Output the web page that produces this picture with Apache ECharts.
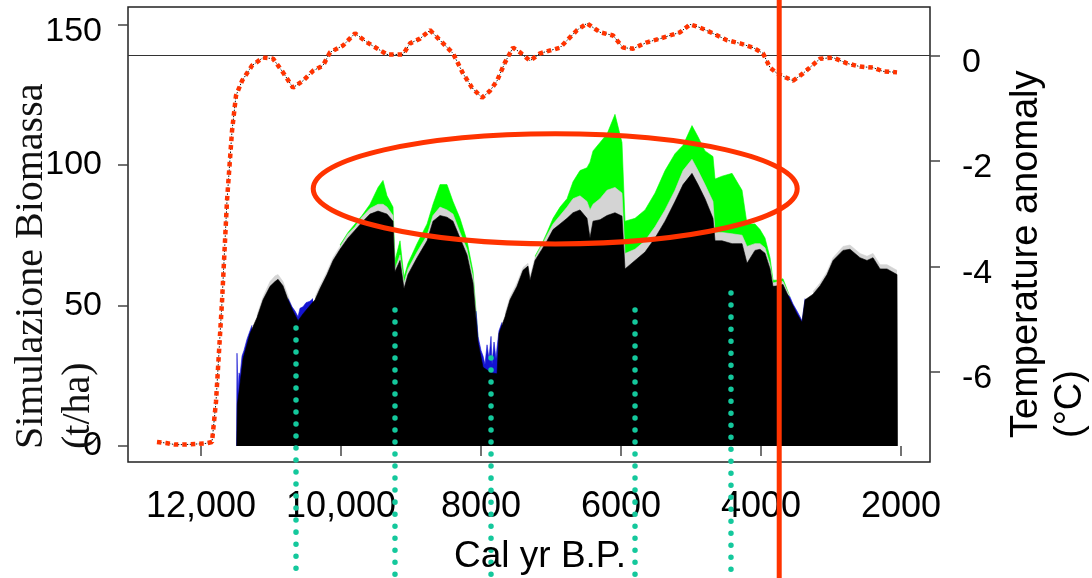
<!DOCTYPE html>
<html><head><meta charset="utf-8">
<script src="https://cdn.jsdelivr.net/npm/echarts@6/dist/echarts.min.js"></script>
<style>html,body{margin:0;padding:0;background:#fff}#c{width:1092px;height:578px}</style>
</head><body><div id="c"></div><script>
// ---------- DATA ----------
const xTickValues = [12000, 10000, 8000, 6000, 4000, 2000];
const xTickLabels = ['12,000', '10,000', '8000', '6000', '4000', '2000'];
const biomassTicks = [0, 50, 100, 150];
const tempTicks = [0, -2, -4, -6];

const biomassYears = [11490,11480,11443,11400,11300,11200,11114,11014,10943,10900,10829,10757,10686,10614,10543,10443,10371,10300,10200,10114,10014,9900,9800,9700,9586,9471,9400,9343,9257,9229,9157,9100,9043,8914,8771,8686,8586,8486,8400,8300,8200,8114,8043,7971,7914,7843,7771,7743,7657,7586,7486,7400,7329,7300,7229,7129,7057,6971,6871,6771,6686,6586,6486,6443,6400,6300,6200,6086,5986,5943,5800,5657,5514,5371,5229,5114,4986,4900,4800,4686,4657,4557,4414,4271,4200,4086,4014,3943,3871,3829,3757,3686,3586,3486,3414,3371,3257,3157,3057,2971,2829,2729,2586,2486,2400,2300,2200,2057,2050];
const blackBiomass = [0,15,22,31,40,45.7,52,56.8,58.5,59.3,57,52,48,44.6,47,50,52,56,61,66,70,74,76.8,79.6,82.5,83.6,83,82.5,80,62,66,56,61,67,73,80,82,81.4,80,74,68,58,37,28,27,26,25.7,40,46,52,56.8,62.5,64,59,66,70,73,77,79,81,83,84,81,74,80,80.5,82,83,81.8,63,66,69,74,80,87,93,97,93,88,81,73,73,72,72,65,69.6,70,68.6,63,56.8,57,57.5,52,47,44,52,54,57,61,66,69.6,70,67,66,67,63,63,61,0];
const grayBiomass = [null,null,null,null,null,46.5,53,58.5,60.5,61,58.5,53.5,48.5,null,null,null,53,57,62,67,71,75.5,78,81.5,84.5,86,86,85,82,63,68,58,63,69,75,82,85,84,82.5,76,70,60,38,null,null,null,null,null,47,53,58,63.5,65,60,67,71.5,75,79,82,85,88,89,87,84,86,88,91,92,90,68.5,70,73,78,84,91,98,102,98,93,87,76,76,75.5,75,71,72,72,70.5,64.5,58,58.5,58.5,53,null,null,null,55,58,62,67,71,71.5,68.5,67.5,68.5,64.5,64.5,62.5,null];
const greenBiomass = [null,null,null,null,null,null,null,null,null,null,null,null,null,null,null,null,null,null,null,null,71.5,76,79,82,86,92,94.5,89,85,66,73,60,65,72,79,86,93,93,87,81,73,62,38.5,null,null,null,null,null,null,null,null,null,null,null,67.5,72,76,81,85,88,94,98,99,101,105,108,111,118,108,80,81,84,90,98,104,107,114,110,105,103,95,96,97,91,79,79,77,74,67,59,59,59.5,53,null,null,null,null,null,null,null,null,null,null,null,null,null,null,null,null];
const blueYears = [11492,11486,11471,11457,11443,11414,11386,11343,11300,11271,null,10757,10700,10657,10614,10586,10543,10500,10443,10400,null,8070,8043,8000,7971,7943,7914,7886,7857,7843,7814,7786,7771,7743,7700,null,3629,3586,3543,3486,3443,3414,3400,3371];
const blueBiomass = [0,33,18,26,25,32,34,38,41,43,null,52.5,49.5,48,46,49,49.5,51,51.5,52.5,null,48,39,34,32,29,36,31,39,29,37,31,35,41,44,null,54,53,50.5,48,46,44.5,47,52.5];

const tempYears = [12629,12500,12371,12229,12086,11943,11843,11786,11700,11629,11557,11500,11414,11271,11114,10971,10829,10686,10543,10400,10257,10157,9971,9800,9629,9443,9343,9114,9014,8871,8729,8586,8400,8257,8129,7986,7871,7771,7657,7543,7443,7300,7157,6871,6629,6486,6300,6114,5971,5829,5629,5443,5157,5014,4871,4686,4486,4300,4114,3971,3871,3771,3543,3400,3157,2971,2771,2586,2400,2257,2057];
const tempAnomaly = [-7.33,-7.35,-7.38,-7.38,-7.37,-7.36,-7.33,-6.57,-4.67,-2.76,-1.43,-0.76,-0.48,-0.19,-0.04,-0.06,-0.32,-0.61,-0.48,-0.29,-0.19,0.06,0.19,0.42,0.25,0.10,0.02,0.02,0.23,0.32,0.48,0.29,0.04,-0.34,-0.61,-0.80,-0.67,-0.48,-0.13,0.15,0.06,-0.10,0.04,0.15,0.48,0.61,0.44,0.38,0.15,0.13,0.25,0.32,0.44,0.59,0.53,0.42,0.29,0.23,0.15,0.04,-0.23,-0.34,-0.48,-0.34,-0.06,-0.04,-0.15,-0.21,-0.23,-0.30,-0.32];

// annotations (data space)
const markerYears = [10643, 9229, 7857, 5800, 4429];
const markerTops = [42, 48.4, 31.3, 48.4, 54.4];
const highlightYear = 3740;
const ellipseCenter = [6940, 91.5];
const ellipseHalf = [3457, 19.6];

// ---------- CHART ----------
const sans = '"Liberation Sans", Arial, sans-serif';
const chart = echarts.init(document.getElementById('c'), null, {renderer: 'canvas'});
const areaSeries = (name, vals, color, z, xs) => ({
  name, type: 'line', data: (xs || biomassYears).map((x, i) => (x === null || vals[i] === null) ? null : [x, vals[i]]),
  xAxisIndex: 0, yAxisIndex: 0, showSymbol: false, symbol: 'none', connectNulls: false,
  lineStyle: {width: 0.6, color}, areaStyle: {color, opacity: 1}, z, silent: true, animation: false
});
const tickStyle = {show: true, length: 10, lineStyle: {color: '#444', width: 1.5}};
chart.setOption({
  animation: false,
  grid: {left: 128, right: 162, top: 7, bottom: 116, show: true, borderColor: '#222', borderWidth: 1.5, backgroundColor: 'transparent'},
  xAxis: {type: 'value', inverse: true, min: 1586, max: 13043,
    axisLine: {show: false}, splitLine: {show: false},
    axisTick: Object.assign({customValues: xTickValues}, tickStyle),
    axisLabel: {customValues: xTickValues, margin: 27, color: '#000', fontSize: 36, fontFamily: sans,
      formatter: v => xTickLabels[xTickValues.indexOf(v)]}},
  yAxis: [
    {type: 'value', min: -5.7, max: 156.2, position: 'left',
      axisLine: {show: false}, splitLine: {show: false},
      axisTick: Object.assign({customValues: biomassTicks}, tickStyle),
      axisLabel: {customValues: biomassTicks, margin: 26, color: '#000', fontSize: 34, fontFamily: sans,
        formatter: v => v === 150 ? '{low|150}' : String(v),
        rich: {low: {fontSize: 34, fontFamily: sans, color: '#000', padding: [14, 0, 0, 0]}}}},
    {type: 'value', min: -7.71, max: 0.92, position: 'right',
      axisLine: {show: false}, splitLine: {show: false},
      axisTick: Object.assign({customValues: tempTicks}, tickStyle),
      axisLabel: {customValues: tempTicks, margin: 32, color: '#000', fontSize: 34, fontFamily: sans,
        formatter: v => '{low|' + v + '}',
        rich: {low: {fontSize: 34, fontFamily: sans, color: '#000', padding: [14, 0, 0, 0]}}}}
  ],
  series: [
    areaSeries('green', greenBiomass, '#00ff00', 2),
    areaSeries('gray', grayBiomass, '#d4d4d4', 3),
    areaSeries('blue', blueBiomass, '#1414d2', 4, blueYears),
    areaSeries('black', blackBiomass, '#000000', 5),
    {name: 'tempBlack', type: 'line', xAxisIndex: 0, yAxisIndex: 1, data: tempYears.map((x, i) => [x, tempAnomaly[i]]),
      showSymbol: false, symbol: 'none', lineStyle: {color: '#111', width: 1, type: [1.5, 1.5]}, z: 6, silent: true,
      markLine: {silent: true, symbol: 'none', label: {show: false}, lineStyle: {color: '#333', width: 1, type: 'solid'}, data: [{yAxis: 0}]}},
    {name: 'temp', type: 'line', xAxisIndex: 0, yAxisIndex: 1, data: tempYears.map((x, i) => [x, tempAnomaly[i]]),
      showSymbol: false, symbol: 'none', lineStyle: {color: '#ff3300', width: 4.5, type: [4.5, 4], cap: 'butt'}, z: 7, silent: true}
  ]
});

// annotations placed through the axes
const px = (yr, v) => chart.convertToPixel({xAxisIndex: 0, yAxisIndex: 0}, [yr, v]);
const graphics = [];
markerYears.forEach((yr, i) => {
  const p = px(yr, markerTops[i]);
  graphics.push({type: 'line', z: 20, silent: true, shape: {x1: p[0], y1: p[1], x2: p[0], y2: 578},
    style: {stroke: '#14c89c', lineWidth: 5.5, lineDash: [0.01, 12], lineCap: 'round'}});
});
const c = px(ellipseCenter[0], ellipseCenter[1]);
const e1 = px(ellipseCenter[0] - ellipseHalf[0], ellipseCenter[1] + ellipseHalf[1]);
graphics.push({type: 'ellipse', z: 21, silent: true,
  shape: {cx: c[0], cy: c[1], rx: Math.abs(e1[0] - c[0]), ry: Math.abs(c[1] - e1[1])},
  style: {stroke: '#ff3300', lineWidth: 5, fill: null}});
const h = px(highlightYear, 0);
graphics.push({type: 'line', z: 22, silent: true, shape: {x1: h[0], y1: 0, x2: h[0], y2: 578},
  style: {stroke: '#ff3300', lineWidth: 5}});
// titles
graphics.push({type: 'text', z: 30, x: 31, y: 449, rotation: Math.PI / 2,
  style: {text: 'Simulazione Biomassa', font: '40px "Liberation Serif", serif', fill: '#111', textAlign: 'left', textVerticalAlign: 'middle'}});
graphics.push({type: 'text', z: 30, x: 78, y: 449, rotation: Math.PI / 2,
  style: {text: '(t/ha)', font: '40px "Liberation Serif", serif', fill: '#111', textAlign: 'left', textVerticalAlign: 'middle'}});
graphics.push({type: 'text', z: 30, x: 1027, y: 438, rotation: Math.PI / 2,
  style: {text: 'Temperature anomaly', font: '38px ' + sans, fill: '#000', textAlign: 'left', textVerticalAlign: 'middle'}});
graphics.push({type: 'text', z: 30, x: 1071, y: 438, rotation: Math.PI / 2,
  style: {text: '(°C)', font: '38px ' + sans, fill: '#000', textAlign: 'left', textVerticalAlign: 'middle'}});
graphics.push({type: 'text', z: 30, x: 540, y: 557,
  style: {text: 'Cal yr B.P.', font: '37px ' + sans, fill: '#000', textAlign: 'center', textVerticalAlign: 'middle'}});
chart.setOption({graphic: graphics});
</script></body></html>
